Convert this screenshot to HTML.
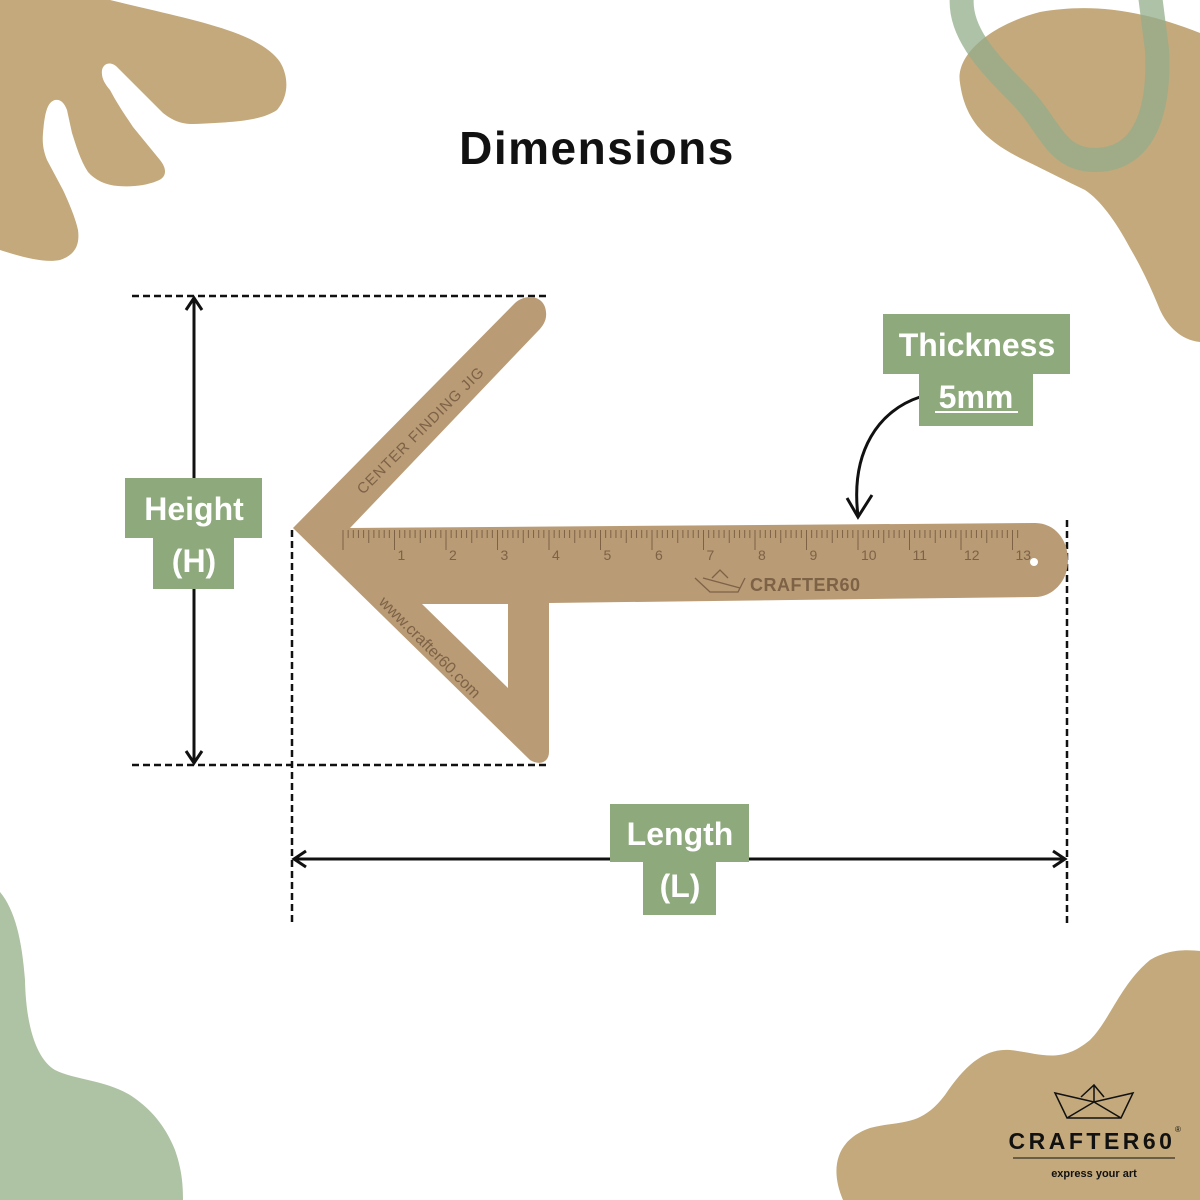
<!DOCTYPE html>
<html><head><meta charset="utf-8"><style>
html,body{margin:0;padding:0;background:#fff;}
svg{display:block}
</style></head><body>
<svg id="s" width="1200" height="1200" viewBox="0 0 1200 1200" xmlns="http://www.w3.org/2000/svg" font-family="Liberation Sans, sans-serif">
<rect width="1200" height="1200" fill="#fff"/>
<!-- blobs -->
<path fill="#c3a97b" d="M0,0 L110,0 C150,10 200,20 233,32 C255,40 272,50 280,62 C288,75 290,95 277,110 C262,120 240,122 193,124 C180,124 172,120 163,113 L117,67 C112,62 104,62 102,70 C101,78 105,84 110,90 C118,105 125,115 133,127 L160,160 C168,170 166,178 157,181 C145,186 130,187 118,186 C105,185 95,180 88,172 C80,160 76,145 72,133 L67,110 C64,102 60,99 55,100 C48,102 45,110 43,133 C42,145 44,152 47,160 L63,190 C70,205 76,220 78,230 C80,245 75,255 60,260 C45,263 25,258 0,250 Z"/>
<path fill="#c3a97b" d="M960,83 C955,55 990,25 1040,12 C1080,5 1130,5 1200,33 L1200,342 C1180,340 1167,325 1160,310 C1150,285 1140,265 1130,248 C1115,220 1100,200 1085,190 C1060,178 1045,170 1020,158 C985,140 965,120 960,83 Z"/>
<path fill="none" stroke="#93ae8b" stroke-opacity="0.75" stroke-width="24" d="M962,-5 C958,30 985,60 1020,95 C1050,125 1055,160 1095,160 C1145,160 1160,110 1157,50 L1150,-5"/>
<path fill="#aec2a4" d="M0,892 C15,910 22,940 25,980 C26,1030 38,1060 55,1070 C75,1080 105,1080 130,1095 C150,1108 165,1125 175,1150 C182,1170 183,1185 183,1200 L0,1200 Z"/>
<path fill="#c3a97b" d="M843,1200 C830,1170 835,1140 870,1128 C900,1120 920,1128 945,1095 C965,1065 985,1048 1010,1050 C1040,1053 1060,1065 1090,1040 C1110,1020 1120,985 1150,960 C1170,948 1190,950 1200,951 L1200,1200 Z"/>
<!-- title -->
<text x="597" y="164" text-anchor="middle" font-size="46" font-weight="bold" letter-spacing="1.5" fill="#111">Dimensions</text>
<!-- dashed lines -->
<g stroke="#111" stroke-width="2.5" stroke-dasharray="7,4" fill="none">
<line x1="132" y1="296" x2="548" y2="296"/>
<line x1="132" y1="765" x2="548" y2="765"/>
<line x1="292" y1="530" x2="292" y2="925"/>
<line x1="1067" y1="520" x2="1067" y2="925"/>
</g>
<!-- arrows -->
<g stroke="#111" stroke-width="3" fill="none">
<line x1="194" y1="298" x2="194" y2="763"/>
<polyline points="186,310 194,298 202,310"/>
<polyline points="186,751 194,763 202,751"/>
<line x1="294" y1="859" x2="1065" y2="859"/>
<polyline points="306,851 294,859 306,867"/>
<polyline points="1053,851 1065,859 1053,867"/>
<path d="M920,397 C880,410 850,450 858,516"/>
<polyline points="847,498 858,517 872,495"/>
</g>
<!-- jig -->
<path fill="#b99b76" d="M293,528 L515,303 C528,292 545,297 546,312 C547,320 543,326 538,331 L350,528 L1035,523 C1055,523 1068,540 1068,560 C1068,582 1052,597 1035,597 L549,603 L549,752 C549,762 540,766 530,760 Z M422,604 L508,604 L508,688 Z" fill-rule="evenodd"/>
<circle cx="1034" cy="562" r="4" fill="#fff"/>
<g id="ticks" stroke="#7d6246" stroke-width="1"></g>
<g fill="#7d6246" font-size="14">
<text x="363" y="495" transform="rotate(-45 363 495)" font-size="15" letter-spacing="1">CENTER FINDING JIG</text>
<text x="378" y="603" transform="rotate(45 378 603)" font-size="16">www.crafter60.com</text>
<text x="750" y="591" font-size="18" font-weight="bold" letter-spacing="0.5">CRAFTER60</text>
<path d="M695,578 L710,592 L738,592 L745,578 M712,578 L720,570 L728,578 M703,578 L740,588" stroke="#7d6246" stroke-width="1.3" fill="none"/>
</g>
<!-- labels -->
<g fill="#8ea97c">
<rect x="125" y="478" width="137" height="60"/><rect x="153" y="537" width="81" height="52"/>
<rect x="610" y="804" width="139" height="58"/><rect x="643" y="861" width="73" height="54"/>
<rect x="883" y="314" width="187" height="60"/><rect x="919" y="373" width="114" height="53"/>
</g>
<g fill="#fff" font-size="32" font-weight="bold" text-anchor="middle">
<text x="194" y="520">Height</text><text x="194" y="572">(H)</text>
<text x="680" y="845">Length</text><text x="680" y="897">(L)</text>
<text x="977" y="356">Thickness</text><text x="976" y="408">5mm</text>
</g>
<line x1="935" y1="412" x2="1018" y2="412" stroke="#fff" stroke-width="2"/>
<!-- logo -->
<g stroke="#111" stroke-width="1.5" fill="none">
<path d="M1055,1093 L1067,1118 L1121,1118 L1133,1093 L1094,1102 Z M1081,1097 L1094,1085 L1104,1097 M1094,1085 L1094,1102 L1067,1118 M1094,1102 L1121,1118"/>
</g>
<text x="1092" y="1149" text-anchor="middle" font-size="23" font-weight="bold" letter-spacing="3.5" fill="#111">CRAFTER60</text>
<text x="1175" y="1132" font-size="8" fill="#111">®</text>
<line x1="1013" y1="1158" x2="1175" y2="1158" stroke="#111" stroke-width="1"/>
<text x="1094" y="1177" text-anchor="middle" font-size="11" font-weight="bold" fill="#111">express your art</text>
</svg>
<script>
var g=document.getElementById('ticks'),s='';
for(var i=0;i<=131;i++){var x=343+i*5.15;var h=i%10==0?20:(i%5==0?13:8);
s+='<line x1="'+x+'" y1="530" x2="'+x+'" y2="'+(530+h)+'"/>';}
var t='';for(var k=1;k<=13;k++){t+='<text x="'+(343+k*51.5+3)+'" y="560" fill="#7d6246" font-size="14" stroke="none">'+k+'</text>';}
g.innerHTML=s+t;
</script>
</body></html>
